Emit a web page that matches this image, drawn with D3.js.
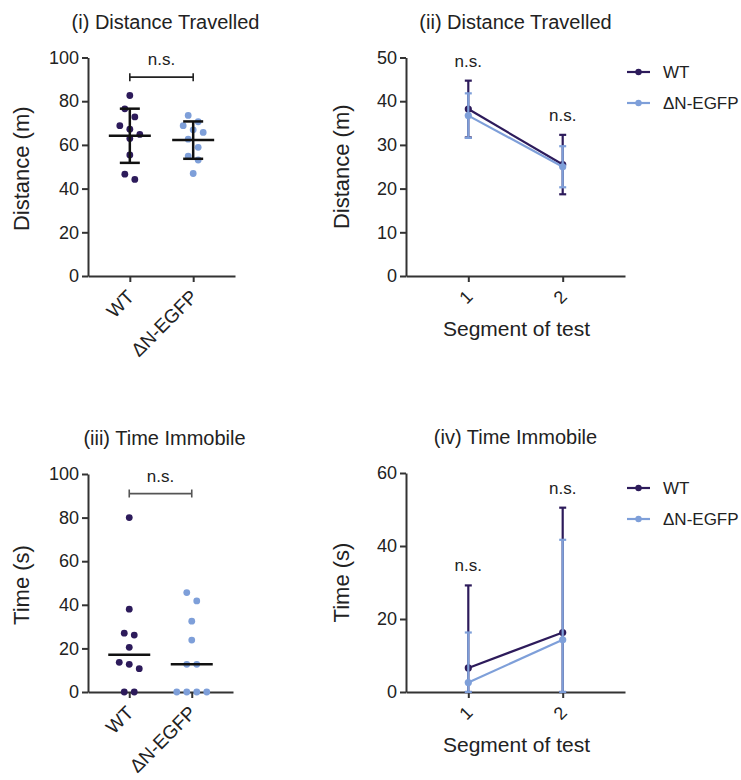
<!DOCTYPE html>
<html>
<head>
<meta charset="utf-8">
<script src="https://cdn.jsdelivr.net/npm/d3@7"></script>
<style>
body { margin: 0; background: #fff; }
text { font-family: "Liberation Sans", Arial, Helvetica, sans-serif; fill: #222; }
</style>
</head>
<body>
<svg id="fig" width="741" height="780"></svg>
<script>
var groups = ["WT", "\u0394N-EGFP"];
var segments = ["1", "2"];
var colors = ["#2d1b5b", "#7e9fd9"];

// (i) distance travelled per animal (m)
var distWT = [82.6, 76.5, 72.8, 68.8, 67.2, 64.8, 62.9, 55.4, 46.6, 44.2];
var distDN = [73.5, 70.6, 68.8, 66.9, 65.7, 62.6, 58.9, 54.9, 53.1, 46.9];

// (ii) distance per segment, mean and SD (m)
var segDistMeanWT = [38.2, 25.5], segDistSdWT = [6.5, 6.8];
var segDistMeanDN = [36.7, 25.0], segDistSdDN = [5.1, 4.7];

// (iii) time immobile per animal (s)
var immWT = [80, 38, 27, 26.1, 20.5, 13.6, 12.7, 10.7, 0, 0];
var immDN = [45.6, 41.8, 32.5, 23.8, 12.7, 12.7, 0, 0, 0, 0];

// (iv) time immobile per segment, mean and SD (s)
var segImmMeanWT = [6.6, 16.3], segImmSdWT = [22.6, 34.2];
var segImmMeanDN = [2.6, 14.3], segImmSdDN = [13.7, 27.4];

var distTicks = [0, 20, 40, 60, 80, 100];
var segDistTicks = [0, 10, 20, 30, 40, 50];
var immTicks = [0, 20, 40, 60, 80, 100];
var segImmTicks = [0, 20, 40, 60];

var svg = d3.select("#fig");

function styleAxis(ax) {
    ax.select(".domain").attr("stroke", "#333").attr("stroke-width", 2);
    ax.selectAll(".tick line").attr("stroke", "#333").attr("stroke-width", 2);
    ax.selectAll(".tick text").style("font-size", "18px").attr("fill", "#222");
}

function rotateLabels(ax) {
    ax.selectAll(".tick text")
        .attr("x", 0).attr("y", 0).attr("dy", 0)
        .attr("text-anchor", "end")
        .attr("transform", "translate(5,22) rotate(-45)");
}

// spread tied values sideways, like a column scatter
function dodge(values, y, rowPx, stepPx) {
    var idx = values.map((v, i) => i).sort((a, b) => values[b] - values[a]);
    var off = new Array(values.length);
    var row = [];
    function flush() {
        row.forEach(function(k, j) { off[k] = (j - (row.length - 1) / 2) * stepPx; });
        row = [];
    }
    idx.forEach(function(k) {
        if (row.length && Math.abs(y(values[k]) - y(values[row[0]])) > rowPx) flush();
        row.push(k);
    });
    flush();
    return off;
}

function scatterPanel(o) {
    var g = svg.append("g");
    var x = d3.scalePoint().domain(groups).range([o.left, o.right]).padding(0.66);
    var y = d3.scaleLinear().domain([0, o.ymax]).range([o.bottom, o.top]);

    var ay = g.append("g").attr("transform", "translate(" + o.left + ",0)")
        .call(d3.axisLeft(y).tickValues(o.ticks).tickSize(6).tickSizeOuter(0).tickPadding(3));
    styleAxis(ay);
    var ax = g.append("g").attr("transform", "translate(0," + o.bottom + ")")
        .call(d3.axisBottom(x).tickSize(6).tickSizeOuter(0));
    styleAxis(ax);
    ax.selectAll(".tick text").style("font-size", "19px");
    rotateLabels(ax);

    o.data.forEach(function(vals, gi) {
        var cx = x(groups[gi]);
        var off = dodge(vals, y, 9, 10);
        g.append("g").selectAll("circle")
            .data(vals)
            .enter()
            .append("circle")
            .attr("cx", (d, i) => cx + off[i])
            .attr("cy", d => y(d))
            .attr("r", 3.4)
            .attr("fill", colors[gi]);

        var centre = o.median ? d3.median(vals) : d3.mean(vals);
        if (!o.median) {
            var sd = d3.deviation(vals);
            g.append("line").attr("x1", cx).attr("x2", cx)
                .attr("y1", y(centre - sd)).attr("y2", y(centre + sd))
                .attr("stroke", "#111").attr("stroke-width", 2.5);
            [centre - sd, centre + sd].forEach(function(v) {
                g.append("line").attr("x1", cx - 10).attr("x2", cx + 10)
                    .attr("y1", y(v)).attr("y2", y(v))
                    .attr("stroke", "#111").attr("stroke-width", 2.5);
            });
        }
        g.append("line").attr("x1", cx - 21).attr("x2", cx + 21)
            .attr("y1", y(centre)).attr("y2", y(centre))
            .attr("stroke", "#111").attr("stroke-width", 2.5);
    });

    // significance bracket
    var by = y(o.bracket);
    g.append("path")
        .attr("d", "M" + x(groups[0]) + "," + (by - 4) + "V" + (by + 4) + "M" + x(groups[0]) + "," + by +
                   "H" + x(groups[1]) + "M" + x(groups[1]) + "," + (by - 4) + "V" + (by + 4))
        .attr("fill", "none").attr("stroke", o.bracketColor).attr("stroke-width", 1.6);
    g.append("text").attr("x", (x(groups[0]) + x(groups[1])) / 2).attr("y", by - 12)
        .attr("text-anchor", "middle").style("font-size", "17px").text("n.s.");

    g.append("text").attr("x", (o.left + o.right) / 2 + 4).attr("y", o.top - 29)
        .attr("text-anchor", "middle").style("font-size", "20px").text(o.title);
    g.append("text").attr("transform", "translate(" + (o.left - 59) + "," + ((o.top + o.bottom) / 2 + 2) + ") rotate(-90)")
        .attr("text-anchor", "middle").style("font-size", "22px").text(o.ylabel);
}

function linePanel(o) {
    var g = svg.append("g");
    var x = d3.scalePoint().domain(segments).range([o.left, o.right]).padding(0.66);
    var y = d3.scaleLinear().domain([0, o.ymax]).range([o.bottom, o.top]);

    var ay = g.append("g").attr("transform", "translate(" + o.left + ",0)")
        .call(d3.axisLeft(y).tickValues(o.ticks).tickSize(6).tickSizeOuter(0).tickPadding(3));
    styleAxis(ay);
    var ax = g.append("g").attr("transform", "translate(0," + o.bottom + ")")
        .call(d3.axisBottom(x).tickSize(6).tickSizeOuter(0));
    styleAxis(ax);
    rotateLabels(ax);

    var line = d3.line().x((d, i) => x(segments[i])).y(d => y(d));
    o.means.forEach(function(m, gi) {
        var sd = o.sds[gi];
        var sg = g.append("g");
        m.forEach(function(v, i) {
            var cx = x(segments[i]);
            var lo = Math.max(v - sd[i], 0), hi = v + sd[i];
            sg.append("line").attr("x1", cx).attr("x2", cx)
                .attr("y1", y(lo)).attr("y2", y(hi))
                .attr("stroke", colors[gi]).attr("stroke-width", 2.2);
            [lo, hi].forEach(function(e) {
                sg.append("line").attr("x1", cx - 3.5).attr("x2", cx + 3.5)
                    .attr("y1", y(e)).attr("y2", y(e))
                    .attr("stroke", colors[gi]).attr("stroke-width", 2.2);
            });
        });
        sg.append("path").datum(m).attr("d", line)
            .attr("fill", "none").attr("stroke", colors[gi]).attr("stroke-width", 2.2);
        sg.selectAll("circle").data(m).enter().append("circle")
            .attr("cx", (d, i) => x(segments[i]))
            .attr("cy", d => y(d))
            .attr("r", 3.6)
            .attr("fill", colors[gi]);
    });

    segments.forEach(function(s, i) {
        var top = d3.max(o.means, (m, gi) => m[i] + o.sds[gi][i]);
        g.append("text").attr("x", x(s)).attr("y", y(top) - 14)
            .attr("text-anchor", "middle").style("font-size", "17px").text("n.s.");
    });

    // legend
    groups.forEach(function(name, gi) {
        var ly = o.legendY + gi * 31;
        g.append("line").attr("x1", 627).attr("x2", 650).attr("y1", ly).attr("y2", ly)
            .attr("stroke", colors[gi]).attr("stroke-width", 2.2);
        g.append("circle").attr("cx", 638.5).attr("cy", ly).attr("r", 3.2).attr("fill", colors[gi]);
        g.append("text").attr("x", 663).attr("y", ly).attr("dy", "0.36em")
            .style("font-size", "17px").text(name);
    });

    g.append("text").attr("x", (o.left + o.right) / 2).attr("y", o.top - 29)
        .attr("text-anchor", "middle").style("font-size", "20px").text(o.title);
    g.append("text").attr("transform", "translate(" + (o.left - 57) + "," + ((o.top + o.bottom) / 2) + ") rotate(-90)")
        .attr("text-anchor", "middle").style("font-size", "22px").text(o.ylabel);
    g.append("text").attr("x", (o.left + o.right) / 2 + 1).attr("y", o.bottom + 60)
        .attr("text-anchor", "middle").style("font-size", "21px").text("Segment of test");
}

scatterPanel({
    left: 88, right: 235, top: 57.5, bottom: 276, ymax: 100, ticks: distTicks,
    data: [distWT, distDN], median: false, bracket: 91, bracketColor: "#222",
    title: "(i) Distance Travelled", ylabel: "Distance (m)"
});

linePanel({
    left: 406, right: 625, top: 57.5, bottom: 276, ymax: 50, ticks: segDistTicks,
    means: [segDistMeanWT, segDistMeanDN], sds: [segDistSdWT, segDistSdDN],
    legendY: 72, title: "(ii) Distance Travelled", ylabel: "Distance (m)"
});

scatterPanel({
    left: 88, right: 233, top: 474, bottom: 692, ymax: 100, ticks: immTicks,
    data: [immWT, immDN], median: true, bracket: 91, bracketColor: "#555",
    title: "(iii) Time Immobile", ylabel: "Time (s)"
});

linePanel({
    left: 406, right: 625, top: 473, bottom: 692, ymax: 60, ticks: segImmTicks,
    means: [segImmMeanWT, segImmMeanDN], sds: [segImmSdWT, segImmSdDN],
    legendY: 488, title: "(iv) Time Immobile", ylabel: "Time (s)"
});
</script>
</body>
</html>
